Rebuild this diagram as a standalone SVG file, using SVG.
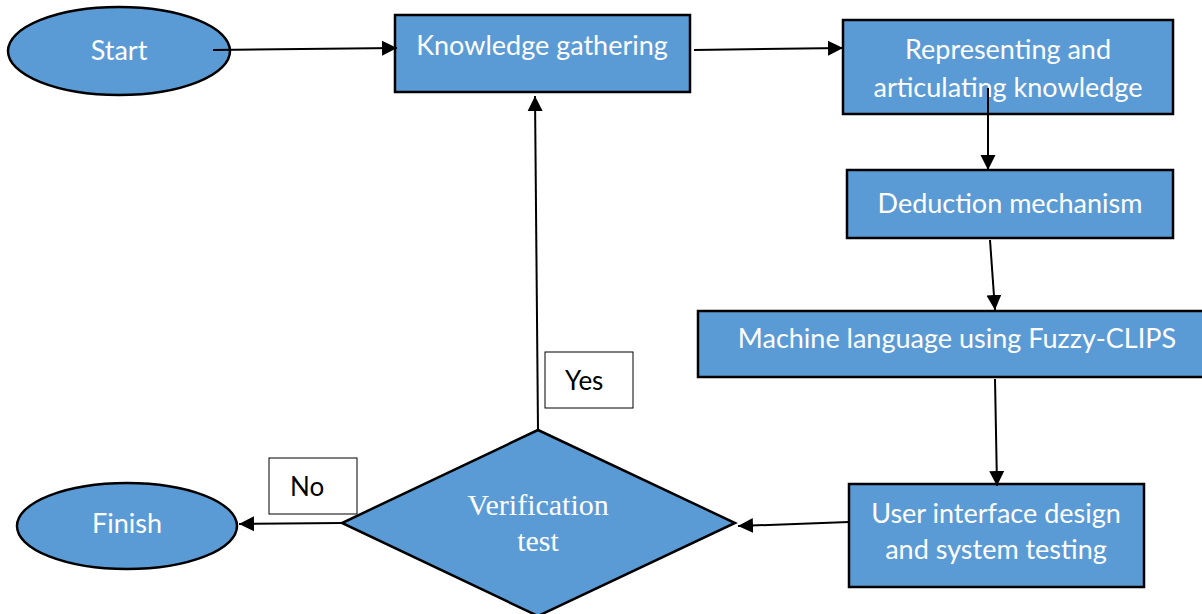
<svg xmlns="http://www.w3.org/2000/svg" width="1202" height="614" viewBox="0 0 1202 614">
<style>
.n{fill:#5B9BD5;stroke:#000;stroke-width:2.5}
.t{font-family:Lato,"Open Sans","Liberation Sans",sans-serif;font-size:27px;fill:#fff;text-anchor:middle}
.s{font-family:"Liberation Serif","Times New Roman",serif;font-size:30px;fill:#fff;text-anchor:middle}
.lb{fill:#fff;stroke:#000;stroke-width:1}
.lt{font-family:Lato,"Open Sans","Liberation Sans",sans-serif;font-size:26px;fill:#000}
.c{fill:none;stroke:#000;stroke-width:2;marker-end:url(#ah)}
</style>
<defs>
<marker id="ah" viewBox="0 0 10 10" refX="10" refY="5" markerWidth="7.5" markerHeight="8" markerUnits="strokeWidth" orient="auto">
<path d="M0,0 L10,5 L0,10 z" fill="#000"/>
</marker>
</defs>
<g id="start">
<ellipse class="n" cx="119" cy="51" rx="111" ry="44"/>
<text class="t" x="119" y="60">Start</text>
</g>
<g id="knowledge-gathering">
<rect class="n" x="395" y="15" width="295" height="77"/>
<text class="t" x="542" y="55">Knowledge gathering</text>
</g>
<g id="representing">
<rect class="n" x="843" y="20" width="330" height="94"/>
<text class="t" x="1008" y="59">Representing and</text>
<text class="t" x="1008" y="97">articulating knowledge</text>
</g>
<g id="deduction">
<rect class="n" x="847" y="170" width="326" height="68"/>
<text class="t" x="1010" y="213">Deduction mechanism</text>
</g>
<g id="machine-language">
<rect class="n" x="698" y="311" width="510" height="66"/>
<text class="t" x="957" y="348">Machine language using Fuzzy-CLIPS</text>
</g>
<g id="user-interface">
<rect class="n" x="849" y="484" width="295" height="103"/>
<text class="t" x="996" y="523">User interface design</text>
<text class="t" x="996" y="559">and system testing</text>
</g>
<g id="verification">
<path class="n" d="M538,430 L735,523 L538,616 L342,523 Z"/>
<text class="s" x="538" y="515">Verification</text>
<text class="s" x="538" y="551">test</text>
</g>
<g id="finish">
<ellipse class="n" cx="127" cy="526" rx="110" ry="43"/>
<text class="t" x="127" y="533">Finish</text>
</g>
<g id="yes-label">
<rect class="lb" x="545" y="352" width="88" height="56"/>
<text class="lt" x="565" y="390">Yes</text>
</g>
<g id="no-label">
<rect class="lb" x="269" y="458" width="88" height="56"/>
<text class="lt" x="290" y="496">No</text>
</g>
<g id="connectors">
<line class="c" x1="213" y1="50" x2="397" y2="48"/>
<line class="c" x1="694" y1="50" x2="843" y2="48"/>
<line class="c" x1="988" y1="88" x2="988" y2="170"/>
<line class="c" x1="990" y1="240" x2="995" y2="310"/>
<line class="c" x1="995" y1="379" x2="997" y2="486"/>
<line class="c" x1="849" y1="522" x2="738" y2="526"/>
<line class="c" x1="538" y1="430" x2="535" y2="96"/>
<line class="c" x1="342" y1="523" x2="239" y2="524"/>
</g>
</svg>
